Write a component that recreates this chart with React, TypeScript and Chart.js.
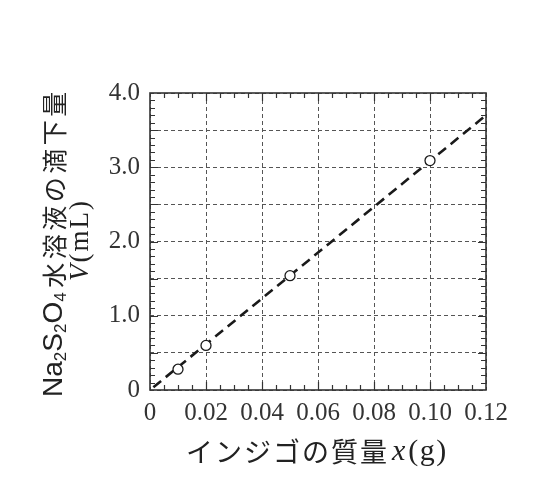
import React, { useEffect, useRef } from "react";
import { Chart, registerables } from "chart.js";

Chart.register(...registerables);

// ---- data ----
const massX: number[] = [0.01, 0.02, 0.05, 0.1];
const volumeV: number[] = [0.28, 0.6, 1.54, 3.09];
const fitLineX: number[] = [0.0012, 0.12];
const fitLineY: number[] = [0.037, 3.7];
const xTickValues: number[] = [0, 0.02, 0.04, 0.06, 0.08, 0.1, 0.12];
const yGridValues: number[] = [0, 0.5, 1, 1.5, 2, 2.5, 3, 3.5, 4];
const xMinorStep = 0.005;
const yMinorStep = 0.1;
const xTitleCJK = "インジゴの質量";
const xTitleVar = "x";
const xTitleUnit = "(g)";
const yTitleLine1: { t: string; sub?: boolean }[] = [
  { t: "Na" }, { t: "2", sub: true }, { t: "S" }, { t: "2", sub: true }, { t: "O" }, { t: "4", sub: true },
];
const yTitleLine1CJK = "水溶液の滴下量";
const yTitleVar = "V";
const yTitleUnit = "(mL)";

const SERIF = '"Liberation Serif", "DejaVu Serif", serif';
const SANS = '"Liberation Sans", Arial, sans-serif';
const CJK = '"Noto Sans CJK JP", sans-serif';

const framePlugin = {
  id: "frameTicks",
  beforeDatasetsDraw(chart: any) {
    const { ctx, chartArea: a, scales } = chart;
    const xs = scales.x;
    const ys = scales.y;
    ctx.save();
    ctx.strokeStyle = "#333";
    ctx.lineWidth = 1.2;
    ctx.beginPath();
    const nx = Math.round(0.12 / xMinorStep);
    for (let i = 1; i < nx; i++) {
      const v = i * xMinorStep;
      const px = Math.round(xs.getPixelForValue(v)) + 0.5;
      const major = i % 4 === 0;
      const len = major ? 8 : 5;
      ctx.moveTo(px, a.bottom);
      ctx.lineTo(px, a.bottom - len);
      ctx.moveTo(px, a.top);
      ctx.lineTo(px, a.top + len);
    }
    const ny = Math.round(4 / yMinorStep);
    for (let i = 1; i < ny; i++) {
      const v = i * yMinorStep;
      const py = Math.round(ys.getPixelForValue(v)) + 0.5;
      const major = i % 5 === 0;
      const len = major ? 8 : 5;
      ctx.moveTo(a.left, py);
      ctx.lineTo(a.left + len, py);
      ctx.moveTo(a.right, py);
      ctx.lineTo(a.right - len, py);
    }
    ctx.stroke();
    ctx.lineWidth = 1.6;
    ctx.strokeRect(a.left, a.top, a.right - a.left, a.bottom - a.top);
    ctx.restore();
  },
  afterDraw(chart: any) {
    const { ctx } = chart;
    ctx.save();
    ctx.fillStyle = "#222";
    ctx.textBaseline = "middle";
    ctx.textAlign = "left";
    // x title
    let x = 185;
    const ty = 452;
    ctx.font = `27px ${CJK}`;
    for (const ch of Array.from(xTitleCJK)) {
      ctx.fillText(ch, x + (29 - ctx.measureText(ch).width) / 2, ty);
      x += 29;
    }
    x += 4;
    ctx.font = `italic 30px ${SERIF}`;
    ctx.fillText(xTitleVar, x, ty);
    x += ctx.measureText(xTitleVar).width + 3;
    ctx.font = `30px ${SERIF}`;
    for (const ch of Array.from(xTitleUnit)) {
      ctx.fillText(ch, x, ty);
      x += ctx.measureText(ch).width + 1.5;
    }

    // y titles (rotated, reading bottom to top)
    type Seg = { t: string; font: string; dy?: number; adv?: number; gap?: number };
    const drawRot = (cx: number, startY: number, segs: Seg[]) => {
      ctx.save();
      ctx.translate(cx, startY);
      ctx.rotate(-Math.PI / 2);
      let p = 0;
      for (const s of segs) {
        ctx.font = s.font;
        const w = ctx.measureText(s.t).width;
        const adv = s.adv ?? w;
        ctx.fillText(s.t, p + (adv - w) / 2, s.dy || 0);
        p += adv + (s.gap || 0);
      }
      ctx.restore();
    };
    const line1: Seg[] = yTitleLine1.map((s) =>
      s.sub ? { t: s.t, font: `17px ${SANS}`, dy: 7 } : { t: s.t, font: `28px ${SANS}` }
    );
    line1[line1.length - 1].gap = 3;
    for (const ch of Array.from(yTitleLine1CJK)) {
      line1.push({ t: ch, font: `25px ${CJK}`, adv: 28.5 });
    }
    drawRot(54, 397, line1);
    const line2: Seg[] = [{ t: yTitleVar, font: `italic 27px ${SERIF}`, gap: 2 }];
    for (const ch of Array.from(yTitleUnit)) {
      line2.push({ t: ch, font: `27px ${SERIF}`, gap: 2 });
    }
    drawRot(81, 281, line2);
    ctx.restore();
  },
};

export default function App() {
  const ref = useRef<HTMLCanvasElement>(null);
  useEffect(() => {
    document.body.style.margin = "0";
    const canvas = ref.current!;
    const chart = new Chart(canvas, {
      type: "scatter",
      data: {
        datasets: [
          {
            type: "line",
            data: fitLineX.map((x, i) => ({ x, y: fitLineY[i] })),
            borderColor: "#1a1a1a",
            borderWidth: 2.6,
            borderDash: [10, 6],
            pointRadius: 0,
            fill: false,
            order: 2,
          },
          {
            type: "scatter",
            data: massX.map((x, i) => ({ x, y: volumeV[i] })),
            pointRadius: 5,
            pointBorderWidth: 1.3,
            pointBorderColor: "#1a1a1a",
            pointBackgroundColor: "#ffffff",
            order: 1,
          },
        ],
      },
      options: {
        responsive: false,
        animation: false,
        devicePixelRatio: 1,
        layout: { padding: { left: 0, top: 93, right: 62, bottom: 0 } },
        plugins: { legend: { display: false }, tooltip: { enabled: false } },
        scales: {
          x: {
            type: "linear",
            min: 0,
            max: 0.12,
            afterFit: (s: any) => { s.height = 107; },
            afterBuildTicks: (s: any) => { s.ticks = xTickValues.map((v) => ({ value: v })); },
            border: { display: false, dash: [4, 3] },
            grid: { color: "#555", lineWidth: 1, drawTicks: false },
            ticks: {
              padding: 8,
              color: "#333",
              font: { family: SERIF, size: 25 },
              callback: (v: any) => (Number(v) === 0 ? "0" : Number(v).toFixed(2)),
              maxRotation: 0,
              autoSkip: false,
            },
          },
          y: {
            type: "linear",
            min: 0,
            max: 4,
            afterFit: (s: any) => { s.width = 150; },
            afterBuildTicks: (s: any) => { s.ticks = yGridValues.map((v) => ({ value: v })); },
            border: { display: false, dash: [4, 3] },
            grid: { color: "#555", lineWidth: 1, drawTicks: false },
            ticks: {
              padding: 10,
              color: "#333",
              font: { family: SERIF, size: 25 },
              callback: (v: any) => {
                const n = Number(v);
                if (Math.abs(n - Math.round(n)) > 1e-9) return "";
                return n === 0 ? "0" : n.toFixed(1);
              },
              autoSkip: false,
            },
          },
        },
      },
      plugins: [framePlugin],
    } as any);
    return () => chart.destroy();
  }, []);
  return (
    <div style={{ width: 548, height: 497 }}>
      <canvas ref={ref} width={548} height={497} style={{ display: "block" }} />
    </div>
  );
}
